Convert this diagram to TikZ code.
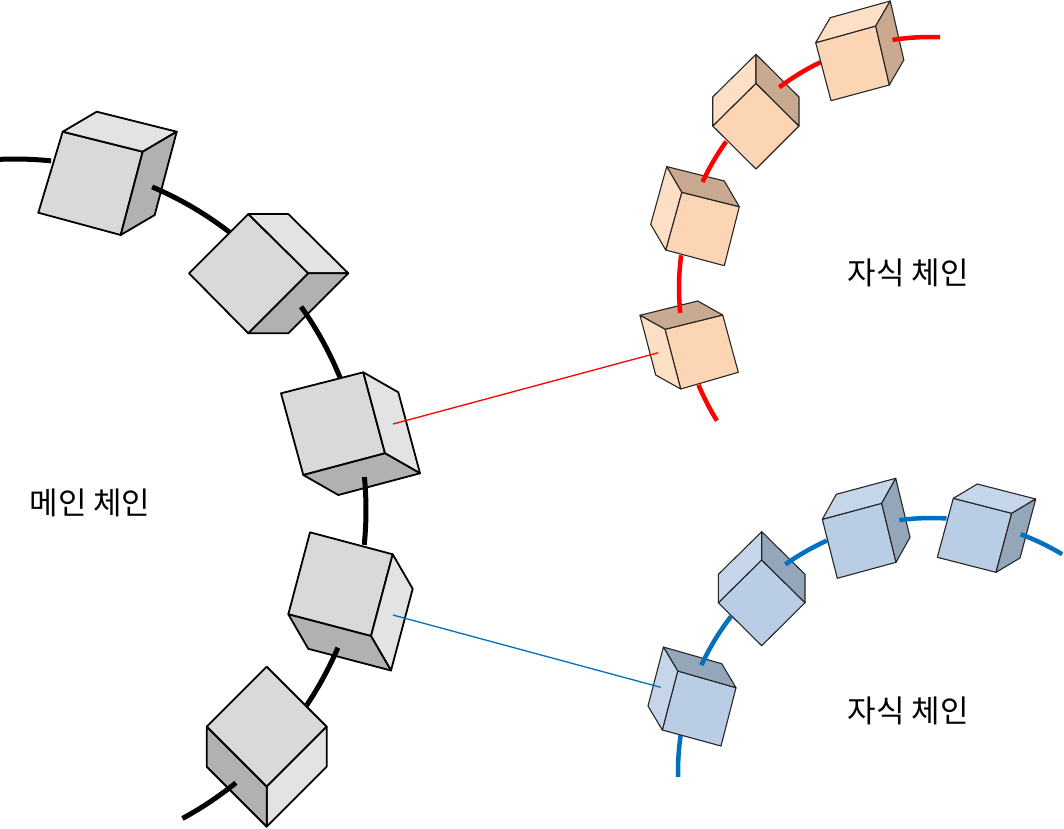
\documentclass[tikz,border=0pt]{standalone}
\usepackage{fontspec}
\newfontfamily\krfont{Noto Sans CJK KR}
\usetikzlibrary{calc}
\definecolor{gF}{HTML}{D9D9D9}
\definecolor{gL}{HTML}{E3E3E3}
\definecolor{gD}{HTML}{B1B1B1}
\definecolor{pF}{HTML}{FCD5B4}
\definecolor{pL}{HTML}{FDDFC6}
\definecolor{pD}{HTML}{C9AA90}
\definecolor{bF}{HTML}{B9CDE5}
\definecolor{bL}{HTML}{C6D6EA}
\definecolor{bD}{HTML}{94A6BA}
\definecolor{cblue}{HTML}{0070C0}
\tikzset{
  mcube/.style={draw=black, line width=1.8pt, line join=round},
  ccube/.style={draw=black!85, line width=1.1pt, line join=round},
  mainline/.style={draw=black, line width=5pt},
  redline/.style={draw=red, line width=4.5pt},
  blueline/.style={draw=cblue, line width=4.5pt},
  thinred/.style={draw=red, line width=1.3pt},
  thinblue/.style={draw=cblue, line width=1.3pt},
  chaintext/.style={font=\krfont\fontsize{31}{36}\selectfont, inner sep=0pt}
}
\newcommand\qface[6]{\draw[#1,fill=#2] (#3) -- (#4) -- (#5) -- (#6) -- cycle;}
\newcommand\sface[5]{\draw[#1,fill=#2] (#3) -- (#4) -- ($(#4)+(#5)$) -- ($(#3)+(#5)$) -- cycle;}
\newcommand\chainarc[5]{\draw[#1] ($(#2)+(#4:#3)$) arc[start angle=#4,end angle=#5,radius=#3];}
\begin{document}
\begin{tikzpicture}[x=1pt,y=-1pt]
\fill[white] (0,0) rectangle (1064,828);
\useasboundingbox (0,0) rectangle (1064,828);
\coordinate (mc) at (15,510);
\coordinate (rc) at (930,288);
\coordinate (bc) at (931.5,771.5);
% main chain
\chainarc{mainline}{mc}{351}{-92.45}{-84.1}
\qface{mcube}{gF}{62.7,131.7}{142.7,151.7}{120.7,235}{38.3,212.7}
\sface{mcube}{gL}{62.7,131.7}{142.7,151.7}{34,-20}
\sface{mcube}{gD}{142.7,151.7}{120.7,235}{34,-20}
\chainarc{mainline}{mc}{351}{-67.0}{-51.7}
\qface{mcube}{gF}{189,273.3}{248.3,214}{308.3,273.3}{248.3,333.3}
\sface{mcube}{gL}{248.3,214}{308.3,273.3}{40,0}
\sface{mcube}{gD}{308.3,273.3}{248.3,333.3}{40,0}
\chainarc{mainline}{mc}{351}{-35.4}{-22.1}
\qface{mcube}{gF}{281,393.3}{363.3,372.3}{385,453.3}{303.3,475}
\sface{mcube}{gL}{363.3,372.3}{385,453.3}{35,20}
\sface{mcube}{gD}{385,453.3}{303.3,475}{35,20}
\chainarc{mainline}{mc}{351}{-5.4}{5.7}
\qface{mcube}{gF}{310,532.3}{392.7,554.3}{371,636}{288.3,614.3}
\sface{mcube}{gL}{392.7,554.3}{371,636}{20,34.5}
\sface{mcube}{gD}{371,636}{288.3,614.3}{20,34.5}
\chainarc{mainline}{mc}{351}{23.1}{34.2}
\qface{mcube}{gF}{266.7,666.7}{326.7,726.7}{266.7,786.7}{206.7,726.7}
\sface{mcube}{gL}{326.7,726.7}{266.7,786.7}{0,40}
\sface{mcube}{gD}{206.7,726.7}{266.7,786.7}{0,40}
\chainarc{mainline}{mc}{351}{51.0}{61.5}
% red child chain
\chainarc{redline}{rc}{251}{148.1}{157.3}
\qface{ccube}{pF}{665,329.3}{722.7,315}{738.3,372.3}{680.7,389}
\sface{ccube}{pD}{665,329.3}{722.7,315}{-25,-14}
\sface{ccube}{pL}{665,329.3}{680.7,389}{-25,-14}
\chainarc{redline}{rc}{251}{174.3}{187.5}
\qface{ccube}{pF}{681.7,192.3}{739.3,206.7}{724.3,265.7}{665.7,250}
\sface{ccube}{pD}{681.7,192.3}{739.3,206.7}{-15,-25.7}
\sface{ccube}{pL}{681.7,192.3}{665.7,250}{-15,-25.7}
\chainarc{redline}{rc}{251}{205.0}{215.7}
\qface{ccube}{pF}{756,83.3}{799,126}{756,169}{712.7,126}
\sface{ccube}{pL}{712.7,126}{756,83.3}{0,-29}
\sface{ccube}{pD}{756,83.3}{799,126}{0,-29}
\chainarc{redline}{rc}{251}{233.1}{244.1}
\qface{ccube}{pF}{815.7,42.7}{875.7,26}{889.3,85}{831,100.7}
\sface{ccube}{pL}{815.7,42.7}{875.7,26}{14.5,-25}
\sface{ccube}{pD}{875.7,26}{889.3,85}{14.5,-25}
\chainarc{redline}{rc}{251}{261.4}{272.3}
% blue child chain
\chainarc{blueline}{bc}{253.5}{178.8}{188.3}
\qface{ccube}{bF}{677.7,671}{736,687.7}{721,746}{662.3,730}
\sface{ccube}{bD}{677.7,671}{736,687.7}{-14.3,-24}
\sface{ccube}{bL}{677.7,671}{662.3,730}{-14.3,-24}
\chainarc{blueline}{bc}{253.5}{204.8}{217.7}
\qface{ccube}{bF}{761.7,560}{805,602.7}{761.7,645.7}{718.3,602.7}
\sface{ccube}{bL}{718.3,602.7}{761.7,560}{0,-28.3}
\sface{ccube}{bD}{761.7,560}{805,602.7}{0,-28.3}
\chainarc{blueline}{bc}{253.5}{234.8}{245.6}
\qface{ccube}{bF}{822.3,519.3}{881.7,503.3}{896,562.3}{837.3,578.3}
\sface{ccube}{bL}{822.3,519.3}{881.7,503.3}{14,-25}
\sface{ccube}{bD}{881.7,503.3}{896,562.3}{14,-25}
\chainarc{blueline}{bc}{253.5}{262.7}{273.4}
\qface{ccube}{bF}{953.3,498.3}{1011.7,513.3}{996,572.3}{937.3,557.3}
\sface{ccube}{bL}{953.3,498.3}{1011.7,513.3}{24,-14.3}
\sface{ccube}{bD}{1011.7,513.3}{996,572.3}{24,-14.3}
\chainarc{blueline}{bc}{253.5}{290.6}{301.0}
% links
\coordinate (m3) at (393,424);
\coordinate (r1) at (658.3,352.7);
\coordinate (m4) at (393,615);
\coordinate (b1) at (660.7,687.3);
\draw[thinred] (m3) -- (r1);
\draw[thinblue] (m4) -- (b1);
% labels
\node[chaintext] (t1) at (908,273) {자식 체인};
\node[chaintext] (t2) at (908,711) {자식 체인};
\node[chaintext] (t3) at (90,503) {메인 체인};
\end{tikzpicture}
\end{document}
